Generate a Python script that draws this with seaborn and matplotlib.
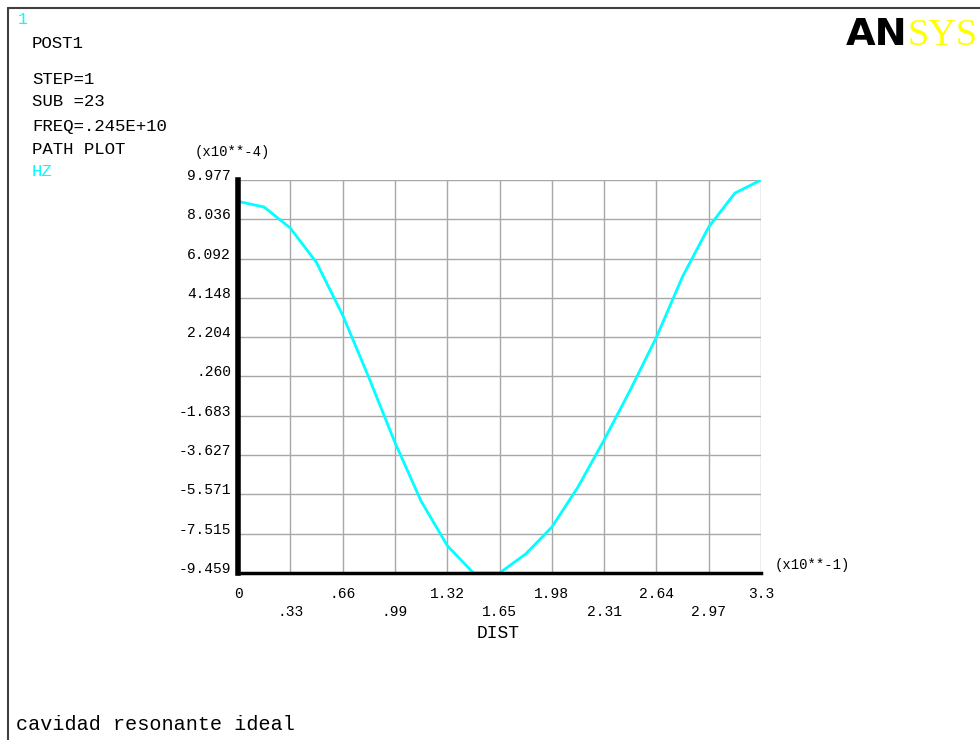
import matplotlib
matplotlib.use("Agg")
import matplotlib.pyplot as plt
import seaborn as sns
import pandas as pd
from matplotlib.lines import Line2D

# path plot data: HZ along DIST (x10**-1), values in x10**-4
dist = [0, .165, .33, .495, .66, .825, .99, 1.155, 1.32, 1.485, 1.65,
        1.815, 1.98, 2.145, 2.31, 2.475, 2.64, 2.805, 2.97, 3.135, 3.3]
hz = [8.92, 8.64, 7.60, 5.90, 3.30, 0.22, -3.0, -5.9, -8.1, -9.459, -9.459,
      -8.52, -7.19, -5.21, -2.88, -0.41, 2.2, 5.2, 7.65, 9.33, 9.977]

yticks = [9.977, 8.036, 6.092, 4.148, 2.204, .260, -1.683, -3.627, -5.571, -7.515, -9.459]
ylabels = ["9.977", "8.036", "6.092", "4.148", "2.204", ".260",
           "-1.683", "-3.627", "-5.571", "-7.515", "-9.459"]
xticks_top = [0, .66, 1.32, 1.98, 2.64, 3.3]
xlabels_top = ["0", ".66", "1.32", "1.98", "2.64", "3.3"]
xticks_low = [.33, .99, 1.65, 2.31, 2.97]
xlabels_low = [".33", ".99", "1.65", "2.31", "2.97"]

info_lines = ["POST1", "STEP=1", "SUB =23", "FREQ=.245E+10", "PATH PLOT"]

sns.set_style("white")
plt.rcParams['font.family'] = ['Liberation Mono', 'DejaVu Sans']
plt.rcParams['text.color'] = 'black'
plt.rcParams['xtick.labelcolor'] = 'black'
plt.rcParams['ytick.labelcolor'] = 'black'

df = pd.DataFrame({"DIST": dist, "HZ": hz})

fig = plt.figure(figsize=(9.8, 7.4), dpi=100)
W, H = 980, 740
ax = fig.add_axes([238 / W, 1 - 573 / H, (761 - 238) / W, (573 - 180) / H])

sns.lineplot(data=df, x="DIST", y="HZ", color="#00ffff", linewidth=2, ax=ax)

ax.set_xlim(0, 3.3)
ax.set_ylim(-9.459, 9.977)
ax.set_xticks(xticks_top)
ax.set_xticklabels(xlabels_top)
ax.set_xticks(xticks_low, minor=True)
ax.set_xticklabels(xlabels_low, minor=True)
ax.set_yticks(yticks)
ax.set_yticklabels(ylabels)

ax.grid(True, which="both", color="#a8a8a8", linewidth=1)
ax.tick_params(axis="x", which="major", length=7, width=1, color="#a8a8a8",
               pad=3, labelsize=10.5, labelcolor="black")
ax.tick_params(axis="x", which="minor", length=7, width=1, color="#a8a8a8",
               pad=16, labelsize=10.5, labelcolor="black")
ax.tick_params(axis="y", length=0, pad=5, labelsize=10.5, labelcolor="black")
for t in ax.get_yticklabels():
    t.set_va("baseline")

ax.spines["top"].set_visible(False)
ax.spines["right"].set_visible(False)
ax.spines["left"].set_color("black")
ax.spines["left"].set_linewidth(4)
ax.spines["bottom"].set_color("black")
ax.spines["bottom"].set_linewidth(2.5)
ax.set_xlabel("")
ax.set_ylabel("")

# axis captions
fig.text(232 / W, 1 - 152 / H, "(x10**-4)", fontsize=10, ha="center", va="center")
fig.text(812 / W, 1 - 565 / H, "(x10**-1)", fontsize=10, ha="center", va="center")
fig.text(498 / W, 1 - 633 / H, "DIST", fontsize=13, ha="center", va="center")

# left info block
fig.text(18 / W, 1 - 20 / H, "1", fontsize=12, color="#00ffff", va="center")
ys = [44, 79, 102, 126, 149]
for y, s in zip(ys, info_lines):
    fig.text(32 / W, 1 - y / H, s, fontsize=12.5, va="center")
fig.text(32 / W, 1 - 172 / H, "HZ", fontsize=12.5, color="#00ffff", va="center")

fig.text(16 / W, 1 - 724 / H, "cavidad resonante ideal", fontsize=14.5, va="center")

# ANSYS logo
fig.text(846 / W, 1 - 45 / H, "AN", fontsize=27.5, fontweight="heavy",
         family="DejaVu Sans", color="black", va="baseline", ha="left")
fig.text(907 / W, 1 - 45 / H, "SYS", fontsize=27.5, color="#ffff00",
         family="Liberation Serif", va="baseline", ha="left")

# window frame
fig.add_artist(Line2D([8 / W, 8 / W], [0, 1 - 8 / H], color="#404040", linewidth=1.5))
fig.add_artist(Line2D([8 / W, 1], [1 - 8 / H, 1 - 8 / H], color="#404040", linewidth=1.5))

fig.savefig("out.png", dpi=100)
